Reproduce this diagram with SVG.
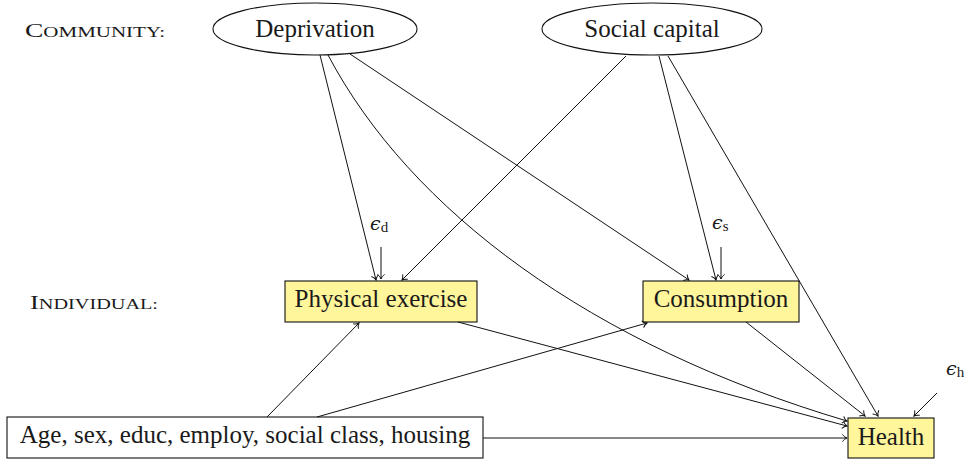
<svg xmlns="http://www.w3.org/2000/svg" width="975" height="462" viewBox="0 0 975 462" font-family="'Liberation Serif', 'Times New Roman', 'DejaVu Serif', serif">
<style>
.lbl{font-size:25px;text-anchor:middle;fill:#1a1a1a}
.sc{font-size:19px;fill:#1a1a1a}
.eps{font-size:19px;font-style:italic;fill:#1a1a1a}
.sub{font-size:15px;font-style:normal}
.node{stroke:#111;stroke-width:1.1}
.y{fill:#fff59a}
.w{fill:#fff}
.e{fill:none;stroke:#111;stroke-width:1}
</style>
<defs>
<marker id="ar" markerUnits="userSpaceOnUse" viewBox="-6 -5 7 10" refX="0" refY="0" markerWidth="7" markerHeight="10" orient="auto" overflow="visible">
<path d="M-4.5,-3.6 C-3.2,-1.6 -1.2,-0.4 0,0 C-1.2,0.4 -3.2,1.6 -4.5,3.6" fill="none" stroke="#111" stroke-width="1"/>
</marker>
</defs>
<g id="labels">
<text class="sc" x="25" y="37" font-family="Liberation Serif" textLength="140" lengthAdjust="spacingAndGlyphs">C<tspan font-size="14.5">OMMUNITY:</tspan></text>
<text class="sc" x="30" y="309" font-family="Liberation Serif" textLength="128" lengthAdjust="spacingAndGlyphs">I<tspan font-size="14.5">NDIVIDUAL:</tspan></text>
</g>
<g id="deprivation">
<ellipse class="node w" cx="315" cy="29" rx="102" ry="26"/>
<text class="lbl" x="315" y="37" font-family="Liberation Serif">Deprivation</text>
</g>
<g id="social-capital">
<ellipse class="node w" cx="652" cy="29" rx="110" ry="26"/>
<text class="lbl" x="652" y="37" font-family="Liberation Serif">Social capital</text>
</g>
<g id="physical-exercise">
<rect class="node y" x="285" y="281" width="192" height="41"/>
<text class="lbl" x="381" y="307" font-family="Liberation Serif">Physical exercise</text>
</g>
<g id="consumption">
<rect class="node y" x="643" y="281" width="156" height="41"/>
<text class="lbl" x="721" y="307" font-family="Liberation Serif">Consumption</text>
</g>
<g id="covariates">
<rect class="node w" x="7" y="417" width="476" height="41"/>
<text class="lbl" x="245" y="443" font-family="Liberation Serif">Age, sex, educ, employ, social class, housing</text>
</g>
<g id="health">
<rect class="node y" x="848" y="418" width="86" height="40"/>
<text class="lbl" x="891" y="445" font-family="Liberation Serif">Health</text>
</g>
<g id="errors">
<text class="eps" x="370" y="230" font-family="DejaVu Serif">ϵ<tspan class="sub" dy="2" font-family="Liberation Serif">d</tspan></text>
<text class="eps" x="712" y="229" font-family="DejaVu Serif">ϵ<tspan class="sub" dy="2" font-family="Liberation Serif">s</tspan></text>
<text class="eps" x="946" y="375" font-family="DejaVu Serif">ϵ<tspan class="sub" dy="2" font-family="Liberation Serif">h</tspan></text>
</g>
<g id="connectors">
<line class="e" x1="381" y1="247" x2="381" y2="279" marker-end="url(#ar)"/>
<line class="e" x1="721" y1="247" x2="721" y2="279" marker-end="url(#ar)"/>
<line class="e" x1="937" y1="393" x2="914" y2="416" marker-end="url(#ar)"/>
<line class="e" x1="320" y1="55" x2="376" y2="280" marker-end="url(#ar)"/>
<line class="e" x1="350" y1="54" x2="689" y2="280" marker-end="url(#ar)"/>
<path class="e" d="M328,55 C410,210 590,345 847,421" marker-end="url(#ar)"/>
<line class="e" x1="626" y1="56" x2="402" y2="280" marker-end="url(#ar)"/>
<line class="e" x1="659" y1="56" x2="716" y2="280" marker-end="url(#ar)"/>
<line class="e" x1="668" y1="56" x2="878" y2="416" marker-end="url(#ar)"/>
<line class="e" x1="458" y1="322" x2="847" y2="426" marker-end="url(#ar)"/>
<line class="e" x1="746" y1="322" x2="865" y2="416" marker-end="url(#ar)"/>
<line class="e" x1="267" y1="417" x2="359" y2="323" marker-end="url(#ar)"/>
<line class="e" x1="317" y1="417" x2="647" y2="323" marker-end="url(#ar)"/>
<line class="e" x1="483" y1="438" x2="847" y2="438" marker-end="url(#ar)"/>
</g>
</svg>
